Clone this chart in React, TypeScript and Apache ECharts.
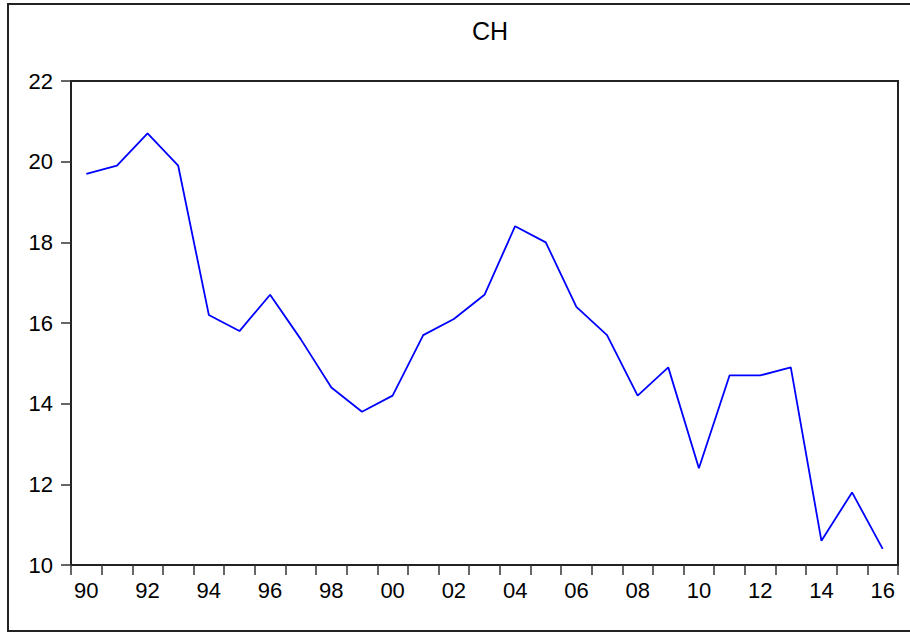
import React, { useEffect, useRef } from "react";
import * as echarts from "echarts";

const years = [
  "1990", "1991", "1992", "1993", "1994", "1995", "1996", "1997", "1998",
  "1999", "2000", "2001", "2002", "2003", "2004", "2005", "2006", "2007",
  "2008", "2009", "2010", "2011", "2012", "2013", "2014", "2015", "2016",
];
const chValues = [
  19.7, 19.9, 20.7, 19.9, 16.2, 15.8, 16.7, 15.6, 14.4,
  13.8, 14.2, 15.7, 16.1, 16.7, 18.4, 18.0, 16.4, 15.7,
  14.2, 14.9, 12.4, 14.7, 14.7, 14.9, 10.6, 11.8, 10.4,
];
const titleText = "CH";
const yMin = 10;
const yMax = 22;
const yStep = 2;

const FONT = "'Liberation Sans', Arial, sans-serif";

export default function App() {
  const ref = useRef<HTMLDivElement>(null);
  useEffect(() => {
    if (!ref.current) return;
    const chart = echarts.init(ref.current, undefined, { renderer: "svg" });
    chart.setOption({
      animation: false,
      backgroundColor: "#ffffff",
      textStyle: { fontFamily: FONT },
      title: {
        text: titleText,
        left: 485,
        textAlign: "center",
        top: 13,
        textStyle: { fontFamily: FONT, fontSize: 25, fontWeight: "normal", color: "#000" },
      },
      graphic: [
        {
          type: "rect",
          shape: { x: 8, y: 4, width: 920, height: 627 },
          style: { fill: "none", stroke: "#222", lineWidth: 2 },
          silent: true,
        },
      ],
      grid: {
        left: 71,
        top: 81,
        right: 12,
        bottom: 67,
        show: true,
        borderColor: "#222",
        borderWidth: 2,
        backgroundColor: "transparent",
      },
      xAxis: {
        type: "category",
        data: years,
        boundaryGap: true,
        axisLine: { lineStyle: { color: "#222", width: 2 } },
        axisTick: { show: true, interval: 0, inside: false, length: 10, lineStyle: { color: "#333", width: 1.5 } },
        axisLabel: {
          interval: 1,
          margin: 14,
          fontSize: 22,
          color: "#000",
          fontFamily: FONT,
          formatter: (v: string) => v.slice(2),
        },
        splitLine: { show: false },
      },
      yAxis: {
        type: "value",
        min: yMin,
        max: yMax,
        interval: yStep,
        axisLine: { show: true, lineStyle: { color: "#222", width: 2 } },
        axisTick: { show: true, inside: false, length: 10, lineStyle: { color: "#333", width: 1.5 } },
        axisLabel: { margin: 18, fontSize: 22, color: "#000", fontFamily: FONT },
        splitLine: { show: false },
      },
      series: [
        {
          type: "line",
          data: chValues,
          symbol: "none",
          lineStyle: { color: "#0000ff", width: 1.8 },
        },
      ],
    });
    return () => chart.dispose();
  }, []);
  return (
    <div
      ref={ref}
      style={{ position: "fixed", left: 0, top: 0, width: 910, height: 632 }}
    />
  );
}
